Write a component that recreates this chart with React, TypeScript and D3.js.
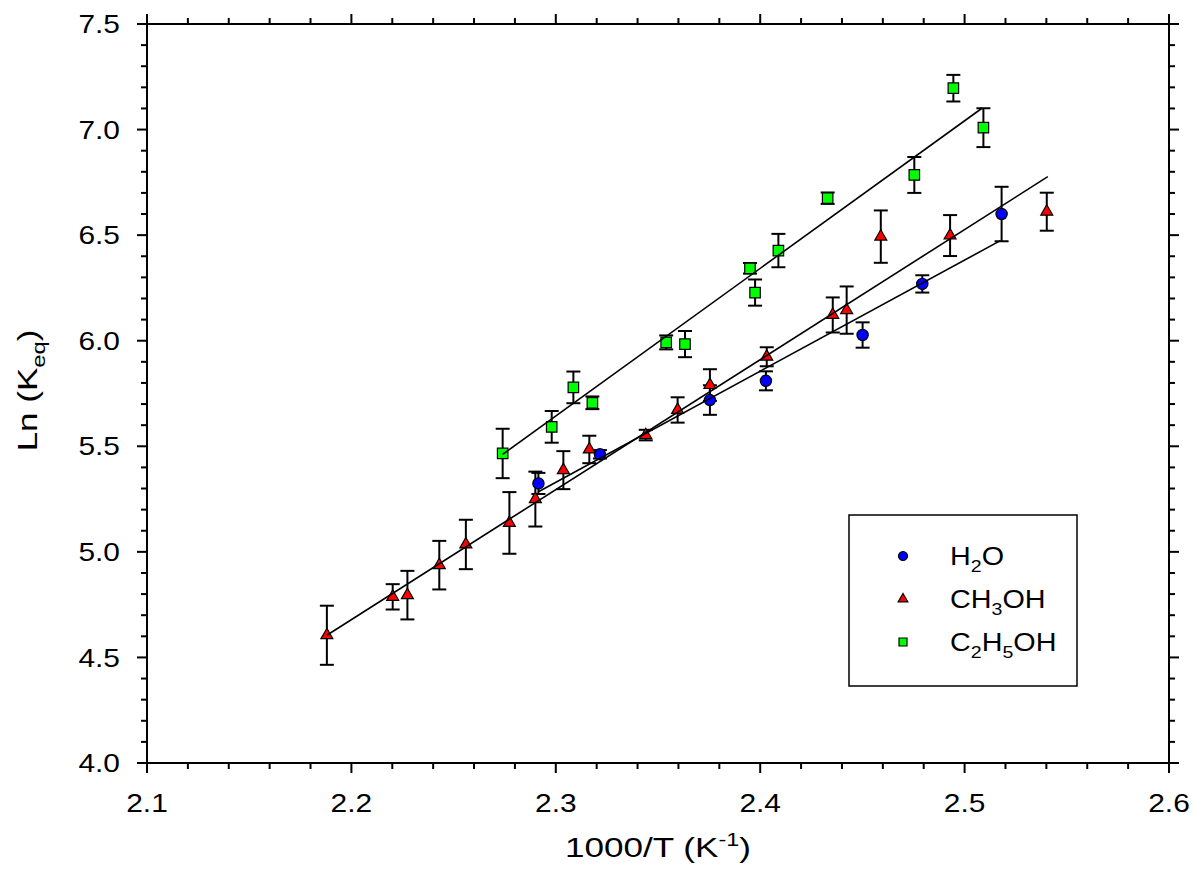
import React, { useEffect, useRef } from "react";
import * as d3 from "d3";

// ---- data ----
const h2oX = [2.2915, 2.3216, 2.3754, 2.4028, 2.4501, 2.4793, 2.5181];
const h2oY = [5.324, 5.462, 5.719, 5.81, 6.027, 6.269, 6.6];
const h2oErr = [0.05, 0.02, 0.07, 0.045, 0.06, 0.041, 0.129];

const meohX = [2.188, 2.2202, 2.2274, 2.243, 2.256, 2.2773, 2.29, 2.3037, 2.3164, 2.344, 2.3596, 2.3754, 2.4032, 2.4355, 2.4423, 2.459, 2.4929, 2.5402];
const meohY = [4.605, 4.787, 4.795, 4.937, 5.035, 5.137, 5.25, 5.387, 5.485, 5.553, 5.672, 5.79, 5.924, 6.122, 6.145, 6.493, 6.498, 6.611];
const meohErr = [0.14, 0.06, 0.115, 0.115, 0.117, 0.146, 0.13, 0.09, 0.065, 0.025, 0.06, 0.075, 0.045, 0.083, 0.112, 0.124, 0.097, 0.09];

const etohX = [2.274, 2.298, 2.3086, 2.3179, 2.354, 2.3632, 2.395, 2.3975, 2.4089, 2.433, 2.4754, 2.4945, 2.5092];
const etohY = [5.466, 5.592, 5.779, 5.706, 5.992, 5.984, 6.343, 6.228, 6.427, 6.675, 6.785, 7.196, 7.009];
const etohErr = [0.117, 0.075, 0.075, 0.03, 0.033, 0.062, 0.025, 0.062, 0.079, 0.027, 0.085, 0.063, 0.092];

// fitted lines (endpoints)
const h2oFitX = [2.2915, 2.5175];
const h2oFitY = [5.285, 6.474];
const meohFitX = [2.188, 2.5407];
const meohFitY = [4.605, 6.777];
const etohFitX = [2.274, 2.5085];
const etohFitY = [5.462, 7.101];

const xMajor = [2.1, 2.2, 2.3, 2.4, 2.5, 2.6];
const xLabels = ["2.1", "2.2", "2.3", "2.4", "2.5", "2.6"];
const yMajor = [4.0, 4.5, 5.0, 5.5, 6.0, 6.5, 7.0, 7.5];
const yLabels = ["4.0", "4.5", "5.0", "5.5", "6.0", "6.5", "7.0", "7.5"];

const W = 1194, H = 888;
const L = 147, R = 1169, T = 24, B = 763;
const FONT = "'Liberation Sans', Arial, sans-serif";

export default function App() {
  const ref = useRef<SVGSVGElement>(null);
  useEffect(() => {
    const svg = d3.select(ref.current);
    svg.selectAll("*").remove();
    const x = d3.scaleLinear().domain([2.1, 2.6]).range([L, R]);
    const y = d3.scaleLinear().domain([4.0, 7.5]).range([B, T]);

    const g = svg.append("g");
    const xMinor = d3.range(0, 26).map((i) => 2.1 + i * 0.02);
    const yMinor = d3.range(0, 36).map((i) => 4.0 + i * 0.1);
    const isMajor = (v: number, arr: number[]) => arr.some((m) => Math.abs(m - v) < 1e-6);

    // frame
    g.append("rect").attr("x", L).attr("y", T).attr("width", R - L).attr("height", B - T)
      .attr("fill", "none").attr("stroke", "#000").attr("stroke-width", 2);

    // ticks
    xMinor.forEach((v) => {
      const len = isMajor(v, xMajor) ? 10 : 6;
      g.append("line").attr("x1", x(v)).attr("x2", x(v)).attr("y1", B).attr("y2", B + len).attr("stroke", "#000").attr("stroke-width", 2);
      g.append("line").attr("x1", x(v)).attr("x2", x(v)).attr("y1", T).attr("y2", T - len).attr("stroke", "#000").attr("stroke-width", 2);
    });
    yMinor.forEach((v) => {
      const len = isMajor(v, yMajor) ? 10 : 6;
      g.append("line").attr("y1", y(v)).attr("y2", y(v)).attr("x1", L).attr("x2", L - len).attr("stroke", "#000").attr("stroke-width", 2);
      g.append("line").attr("y1", y(v)).attr("y2", y(v)).attr("x1", R).attr("x2", R + len).attr("stroke", "#000").attr("stroke-width", 2);
    });

    const SX = 1.15;
    xMajor.forEach((v, i) => {
      g.append("text").attr("transform", `translate(${x(v)},812) scale(${SX},1)`).attr("text-anchor", "middle")
        .attr("font-family", FONT).attr("font-size", 26).attr("fill", "#000").text(xLabels[i]);
    });
    yMajor.forEach((v, i) => {
      g.append("text").attr("transform", `translate(120,${y(v)}) scale(${SX},1)`).attr("dy", "0.35em").attr("text-anchor", "end")
        .attr("font-family", FONT).attr("font-size", 26).attr("fill", "#000").text(yLabels[i]);
    });

    // axis titles
    const xt = g.append("text").attr("transform", `translate(${(L + R) / 2},857) scale(1.3,1)`).attr("text-anchor", "middle")
      .attr("font-family", FONT).attr("font-size", 27).attr("fill", "#000");
    xt.append("tspan").text("1000/T (K");
    xt.append("tspan").attr("dy", -11).attr("font-size", 18).text("-1");
    xt.append("tspan").attr("dy", 11).text(")");

    const yt = g.append("text").attr("transform", `translate(37,${(T + B) / 2 - 3}) rotate(-90) scale(1.25,1)`).attr("text-anchor", "middle")
      .attr("font-family", FONT).attr("font-size", 28).attr("fill", "#000");
    yt.append("tspan").text("Ln (K");
    yt.append("tspan").attr("dy", 8).attr("font-size", 19).text("eq");
    yt.append("tspan").attr("dy", -8).text(")");

    const series = [
      { xs: h2oX, ys: h2oY, es: h2oErr, type: d3.symbolCircle, size: 100, color: "#0000ff", fx: h2oFitX, fy: h2oFitY },
      { xs: meohX, ys: meohY, es: meohErr, type: d3.symbolTriangle, size: 62, color: "#ff0000", fx: meohFitX, fy: meohFitY },
      { xs: etohX, ys: etohY, es: etohErr, type: d3.symbolSquare, size: 110, color: "#00ff00", fx: etohFitX, fy: etohFitY },
    ];

    // error bars
    series.forEach((s) => {
      s.xs.forEach((xv, i) => {
        const cx = x(xv), y1 = y(s.ys[i] + s.es[i]), y2 = y(s.ys[i] - s.es[i]);
        g.append("line").attr("x1", cx).attr("x2", cx).attr("y1", y1).attr("y2", y2).attr("stroke", "#000").attr("stroke-width", 2);
        [y1, y2].forEach((yy) => g.append("line").attr("x1", cx - 7).attr("x2", cx + 7).attr("y1", yy).attr("y2", yy).attr("stroke", "#000").attr("stroke-width", 2));
      });
    });
    // markers
    series.forEach((s) => {
      const sym = d3.symbol().type(s.type).size(s.size);
      s.xs.forEach((xv, i) => {
        g.append("path").attr("d", sym()!).attr("transform", `translate(${x(xv)},${y(s.ys[i])})`)
          .attr("fill", s.color).attr("stroke", "#000").attr("stroke-width", 1.2);
      });
    });
    // fit lines
    const line = d3.line<[number, number]>().x((d) => x(d[0])).y((d) => y(d[1]));
    series.forEach((s) => {
      const pts = s.fx.map((v, i) => [v, s.fy[i]] as [number, number]);
      g.append("path").attr("d", line(pts)!).attr("fill", "none").attr("stroke", "#000").attr("stroke-width", 1.6);
    });

    // legend
    const lg = g.append("g");
    lg.append("rect").attr("x", 849).attr("y", 515).attr("width", 228).attr("height", 171)
      .attr("fill", "#fff").attr("stroke", "#000").attr("stroke-width", 1.5);
    const rows = [
      { parts: [["H", 0], ["2", 1], ["O", 0]], type: d3.symbolCircle, size: 64, color: "#0000ff", cy: 556 },
      { parts: [["CH", 0], ["3", 1], ["OH", 0]], type: d3.symbolTriangle, size: 40, color: "#ff0000", cy: 599 },
      { parts: [["C", 0], ["2", 1], ["H", 0], ["5", 1], ["OH", 0]], type: d3.symbolSquare, size: 64, color: "#00ff00", cy: 642 },
    ];
    rows.forEach((r) => {
      lg.append("path").attr("d", d3.symbol().type(r.type).size(r.size)()!).attr("transform", `translate(903,${r.cy})`)
        .attr("fill", r.color).attr("stroke", "#000").attr("stroke-width", 1.2);
      const t = lg.append("text").attr("transform", `translate(950,${r.cy + 9}) scale(1.15,1)`)
        .attr("font-family", FONT).attr("font-size", 25).attr("fill", "#000");
      let prevSub = 0;
      r.parts.forEach(([txt, sub]) => {
        const dy = (sub as number) === prevSub ? 0 : (sub ? 7 : -7);
        t.append("tspan").attr("dy", dy).attr("font-size", sub ? 17 : 25).text(txt as string);
        prevSub = sub as number;
      });
    });
  }, []);
  return (
    <svg ref={ref} width={W} height={H} style={{ position: "absolute", left: 0, top: 0, background: "#fff" }} />
  );
}
